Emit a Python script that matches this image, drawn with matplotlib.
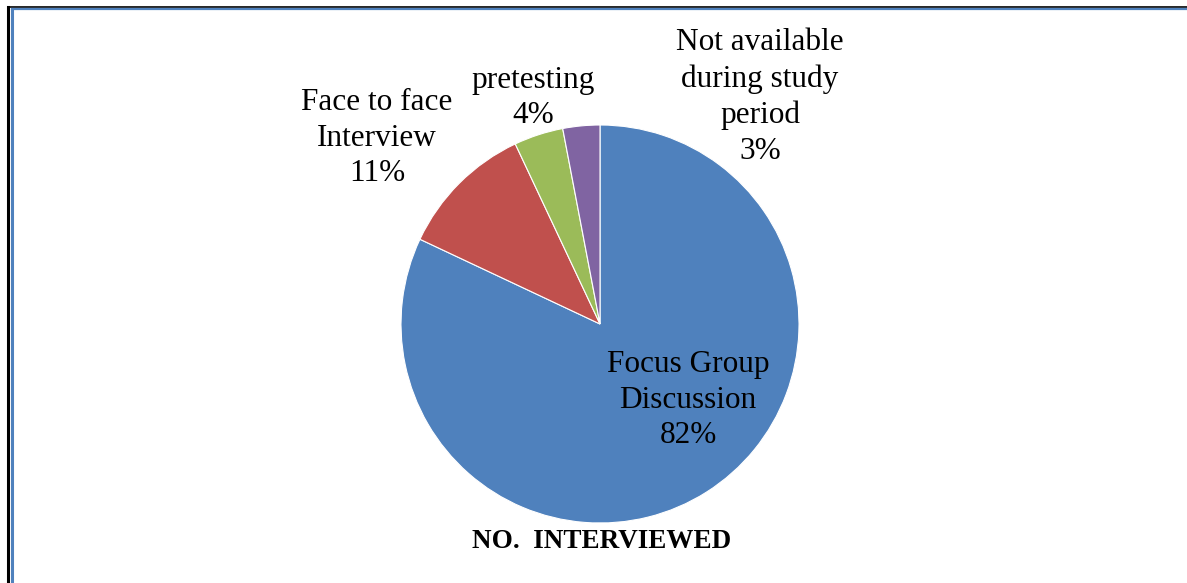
import matplotlib.pyplot as plt
from matplotlib.lines import Line2D

plt.rcParams['font.family'] = ['Liberation Serif', 'DejaVu Serif']

# data
categories = ['Focus Group\nDiscussion', 'Face to face\nInterview', 'pretesting',
              'Not available\nduring study\nperiod']
values = [82, 11, 4, 3]
colors = ['#4F81BD', '#C0504D', '#9BBB59', '#8064A2']
title = 'NO.  INTERVIEWED'

W, H = 1187, 583
fig = plt.figure(figsize=(W / 100, H / 100), dpi=100)
ax = fig.add_axes([0, 0, 1, 1])

ax.pie(values, colors=colors, startangle=90, counterclock=False,
       center=(600, H - 324), radius=199,
       wedgeprops=dict(edgecolor='white', linewidth=0.8))
ax.set_xlim(0, W)
ax.set_ylim(0, H)
ax.set_aspect('equal')
ax.axis('off')

# label positions (image pixel coords of each label block centre)
label_pos = [(688, 400), (377, 138), (533, 98), (760, 97)]
for cat, v, (x, y) in zip(categories, values, label_pos):
    ax.text(x, H - y, f'{cat}\n{v}%', ha='center', va='center',
            fontsize=22.5, linespacing=1.31)

ax.text(602, H - 542, title, ha='center', va='center', fontsize=19.5,
        fontweight='bold')

# page border
fig.add_artist(Line2D([8 / W, 8 / W], [0, 1 - 7 / H], color='black', lw=2.2,
                      transform=fig.transFigure))
fig.add_artist(Line2D([8 / W, 1], [1 - 7 / H, 1 - 7 / H], color='black', lw=1.2,
                      transform=fig.transFigure))
fig.add_artist(Line2D([12 / W, 12 / W], [0, 1 - 9 / H], color='#4F81BD', lw=2.2,
                      transform=fig.transFigure))
fig.add_artist(Line2D([12 / W, 1], [1 - 9 / H, 1 - 9 / H], color='#4F81BD', lw=1.6,
                      transform=fig.transFigure))

fig.savefig('out.png', dpi=100)
